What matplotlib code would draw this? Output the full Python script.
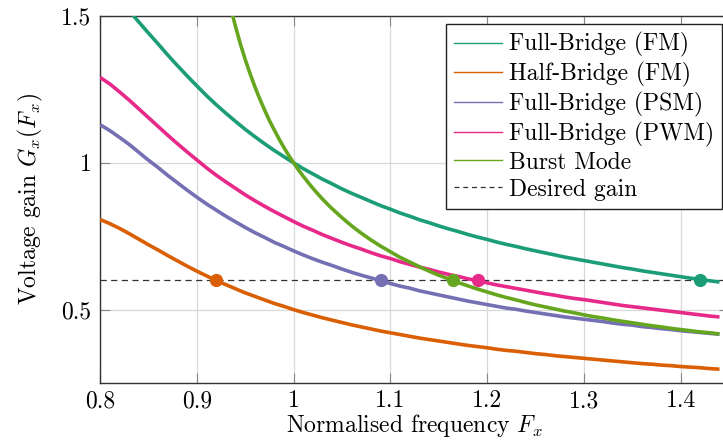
import matplotlib
matplotlib.use("Agg")
import matplotlib.pyplot as plt
from matplotlib.lines import Line2D

# ---- data ----
freq = [0.80, 0.81, 0.82, 0.83, 0.84, 0.85, 0.86, 0.87, 0.88, 0.89,
        0.90, 0.91, 0.92, 0.93, 0.94, 0.95, 0.96, 0.97, 0.98, 0.99,
        1.00, 1.01, 1.02, 1.03, 1.04, 1.05, 1.06, 1.07, 1.08, 1.09,
        1.10, 1.11, 1.12, 1.13, 1.14, 1.15, 1.16, 1.17, 1.18, 1.19,
        1.20, 1.21, 1.22, 1.23, 1.24, 1.25, 1.26, 1.27, 1.28, 1.29,
        1.30, 1.31, 1.32, 1.33, 1.34, 1.35, 1.36, 1.37, 1.38, 1.39,
        1.40, 1.41, 1.42, 1.43, 1.44]
gain_fb_fm = [1.614, 1.586, 1.553, 1.518, 1.480, 1.442, 1.405, 1.367, 1.331, 1.296,
              1.262, 1.229, 1.198, 1.169, 1.141, 1.114, 1.089, 1.065, 1.042, 1.021,
              1.000, 0.980, 0.962, 0.944, 0.928, 0.911, 0.896, 0.882, 0.868, 0.854,
              0.842, 0.829, 0.818, 0.806, 0.796, 0.785, 0.775, 0.766, 0.756, 0.747,
              0.739, 0.730, 0.722, 0.715, 0.707, 0.700, 0.693, 0.686, 0.679, 0.673,
              0.667, 0.661, 0.655, 0.649, 0.643, 0.638, 0.632, 0.627, 0.622, 0.617,
              0.612, 0.607, 0.603, 0.598, 0.594]
gain_hb_fm = [0.807, 0.793, 0.777, 0.759, 0.740, 0.721, 0.703, 0.684, 0.666, 0.648,
              0.631, 0.615, 0.599, 0.585, 0.571, 0.557, 0.545, 0.533, 0.521, 0.511,
              0.500, 0.490, 0.481, 0.472, 0.464, 0.456, 0.448, 0.441, 0.434, 0.427,
              0.421, 0.415, 0.409, 0.403, 0.398, 0.393, 0.388, 0.383, 0.378, 0.374,
              0.370, 0.365, 0.361, 0.358, 0.354, 0.350, 0.347, 0.343, 0.340, 0.337,
              0.334, 0.331, 0.328, 0.325, 0.322, 0.319, 0.316, 0.314, 0.311, 0.309,
              0.306, 0.304, 0.302, 0.299, 0.297]
gain_fb_psm = [1.130, 1.110, 1.087, 1.063, 1.036, 1.009, 0.984, 0.957, 0.932, 0.907,
               0.883, 0.860, 0.839, 0.818, 0.799, 0.780, 0.762, 0.746, 0.729, 0.715,
               0.700, 0.686, 0.673, 0.661, 0.650, 0.638, 0.627, 0.617, 0.608, 0.598,
               0.589, 0.580, 0.573, 0.564, 0.557, 0.550, 0.543, 0.536, 0.529, 0.523,
               0.517, 0.511, 0.505, 0.501, 0.495, 0.490, 0.485, 0.480, 0.475, 0.471,
               0.467, 0.463, 0.459, 0.454, 0.450, 0.447, 0.442, 0.439, 0.435, 0.432,
               0.428, 0.425, 0.422, 0.419, 0.416]
gain_fb_pwm = [1.291, 1.269, 1.242, 1.214, 1.184, 1.154, 1.124, 1.094, 1.065, 1.037,
               1.010, 0.983, 0.958, 0.935, 0.913, 0.891, 0.871, 0.852, 0.834, 0.817,
               0.800, 0.784, 0.770, 0.755, 0.742, 0.729, 0.717, 0.706, 0.694, 0.683,
               0.674, 0.663, 0.654, 0.645, 0.637, 0.628, 0.620, 0.613, 0.605, 0.598,
               0.591, 0.584, 0.578, 0.572, 0.566, 0.560, 0.554, 0.549, 0.543, 0.538,
               0.534, 0.529, 0.524, 0.519, 0.514, 0.510, 0.506, 0.502, 0.498, 0.494,
               0.490, 0.486, 0.482, 0.478, 0.475]
freq_burst = [0.930, 0.935, 0.940, 0.945, 0.950, 0.955, 0.960, 0.965, 0.970, 0.975,
              0.980, 0.985, 0.990, 0.995, 1.000, 1.005, 1.010, 1.015, 1.020, 1.025,
              1.030, 1.035, 1.040, 1.045, 1.050, 1.060, 1.070, 1.080, 1.090, 1.100,
              1.110, 1.120, 1.130, 1.140, 1.150, 1.160, 1.170, 1.180, 1.190, 1.200,
              1.210, 1.220, 1.230, 1.240, 1.250, 1.260, 1.270, 1.280, 1.290, 1.300,
              1.310, 1.320, 1.330, 1.340, 1.350, 1.360, 1.370, 1.380, 1.390, 1.400,
              1.410, 1.420, 1.430, 1.440]
gain_burst = [1.599, 1.528, 1.464, 1.405, 1.352, 1.304, 1.259, 1.218, 1.180, 1.144,
              1.112, 1.081, 1.052, 1.025, 1.000, 0.976, 0.954, 0.933, 0.913, 0.894,
              0.876, 0.859, 0.843, 0.828, 0.813, 0.785, 0.760, 0.737, 0.716, 0.697,
              0.678, 0.662, 0.646, 0.631, 0.617, 0.605, 0.592, 0.581, 0.570, 0.560,
              0.550, 0.541, 0.533, 0.524, 0.516, 0.509, 0.502, 0.495, 0.489, 0.482,
              0.476, 0.471, 0.465, 0.460, 0.455, 0.450, 0.445, 0.441, 0.436, 0.432,
              0.428, 0.424, 0.421, 0.417]
desired_gain = 0.6
op_freq = [1.42, 0.92, 1.09, 1.19, 1.165]   # operating points at desired gain

labels = ["Full-Bridge (FM)", "Half-Bridge (FM)", "Full-Bridge (PSM)",
          "Full-Bridge (PWM)", "Burst Mode", "Desired gain"]
colors = ["#1b9e77", "#d95f02", "#7570b3", "#e7298a", "#66a61e"]
xticks = [0.8, 0.9, 1.0, 1.1, 1.2, 1.3, 1.4]
xticklabels = ["0.8", "0.9", "1", "1.1", "1.2", "1.3", "1.4"]
yticks = [0.5, 1.0, 1.5]
yticklabels = ["0.5", "1", "1.5"]

plt.rcParams["font.family"] = ["cmr10", "DejaVu Serif"]
plt.rcParams["mathtext.fontset"] = "cm"
plt.rcParams["axes.unicode_minus"] = False
FS = 17

fig = plt.figure(figsize=(7.23, 4.43), dpi=100)
ax = fig.add_axes([100 / 723, 60 / 443, 629.2 / 723, 367 / 443])

series = [(freq, gain_fb_fm), (freq, gain_hb_fm), (freq, gain_fb_psm),
          (freq, gain_fb_pwm), (freq_burst, gain_burst)]
for (xs, ys), c in zip(series, colors):
    ax.plot(xs, ys, color=c, lw=2.6, solid_capstyle="butt", solid_joinstyle="round", zorder=3)

ax.axhline(desired_gain, color="#333333", lw=0.9, dashes=(5, 3.5), zorder=2.5)

for fx, c in zip(op_freq, colors):
    ax.plot([fx], [desired_gain], "o", color=c, ms=8.5, zorder=4)

ax.set_xlim(0.8, 1.45)
ax.set_ylim(0.25, 1.5)
ax.set_xticks(xticks)
ax.set_xticklabels(xticklabels)
ax.set_yticks(yticks)
ax.set_yticklabels(yticklabels)
ax.grid(True, color="#d9d9d9", lw=0.9, zorder=0)
ax.set_axisbelow(True)
ax.tick_params(direction="in", length=7, width=0.8, color="#888888",
               top=True, right=True, labelsize=FS)
ax.tick_params(axis="x", pad=5)
ax.tick_params(axis="y", pad=6)
for sp in ax.spines.values():
    sp.set_color("#333333")
    sp.set_linewidth(1.0)

ax.set_xlabel(r"Normalised frequency $F_x$", fontsize=FS, labelpad=0)
ax.set_ylabel(r"Voltage gain $G_x(F_x)$", fontsize=FS, labelpad=12)

handles = [Line2D([], [], color=c, lw=1.0) for c in colors]
handles.append(Line2D([], [], color="#333333", lw=0.9, dashes=(4, 3)))
leg = ax.legend(handles, labels, loc="upper right",
                bbox_to_anchor=(722 / 723, 1 - 24 / 443), bbox_transform=fig.transFigure,
                borderaxespad=0, fontsize=FS, frameon=True, fancybox=False,
                edgecolor="#222222", framealpha=1, handlelength=2.0,
                handletextpad=0.3, labelspacing=0.2, borderpad=0.35)
leg.get_frame().set_linewidth(1.0)

fig.savefig("out.png", dpi=100)
